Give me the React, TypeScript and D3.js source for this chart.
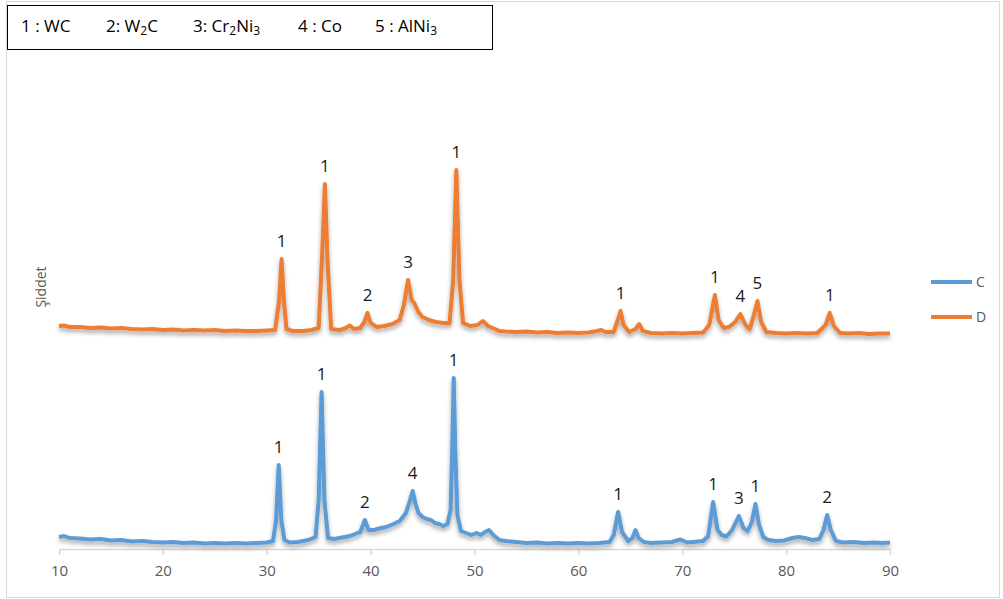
import React, { useEffect, useRef } from 'react';
import * as d3 from 'd3';

// 2θ (deg) / intensity (counts)
const seriesC: [number, number][] = [
  [10, 120], [10.5, 130], [11, 110], [12, 105], [13, 95], [14, 100], [15, 85], [16, 90], [17, 75], [18, 80],
  [19, 70], [20, 65], [21, 70], [22, 60], [23, 65], [24, 55], [25, 60], [26, 55], [27, 60], [28, 55],
  [29, 60], [30, 65], [30.6, 80], [30.9, 290], [31.15, 840], [31.4, 290], [31.7, 90], [32.2, 65], [33, 70],
  [34, 90], [34.7, 120], [35.0, 490], [35.28, 1570], [35.55, 490], [35.9, 110], [36.5, 100], [37, 110],
  [37.5, 120], [38, 130], [38.5, 150], [39, 170], [39.45, 290], [39.8, 190], [40.3, 190], [41, 210],
  [41.5, 220], [42.2, 250], [42.8, 280], [43.4, 360], [43.8, 490], [44.05, 580], [44.3, 460], [44.6, 360],
  [45, 320], [45.4, 300], [45.8, 290], [46.2, 260], [46.6, 250], [47, 230], [47.4, 250], [47.7, 390],
  [47.85, 990], [48.0, 1710], [48.15, 990], [48.35, 340], [48.7, 180], [49.2, 160], [49.7, 140], [50.2, 160],
  [50.6, 140], [51, 170], [51.4, 190], [51.8, 140], [52.4, 90], [53, 80], [54, 70], [55, 60], [56, 65],
  [57, 55], [58, 60], [59, 55], [60, 60], [61, 55], [62, 60], [63, 70], [63.4, 140], [63.83, 370],
  [64.2, 170], [64.8, 80], [65.2, 110], [65.5, 190], [65.8, 110], [66.3, 70], [67, 60], [68, 65], [69, 70],
  [69.8, 95], [70.5, 65], [71, 70], [72, 80], [72.5, 130], [72.97, 470], [73.4, 190], [73.8, 140],
  [74.26, 125], [74.8, 190], [75.45, 330], [75.9, 210], [76.3, 180], [76.7, 270], [77.05, 450], [77.4, 240],
  [77.8, 120], [78.3, 90], [79, 80], [79.8, 85], [80.6, 110], [81.2, 120], [81.8, 110], [82.5, 90],
  [83.2, 100], [83.6, 190], [83.95, 340], [84.3, 190], [84.8, 80], [85.5, 65], [86.5, 70], [87.5, 60],
  [88.5, 65], [89.2, 60], [90, 65],
];

const seriesD: [number, number][] = [
  [10, 2230], [10.5, 2235], [11, 2220], [12, 2220], [13, 2210], [14, 2215], [15, 2205], [16, 2210],
  [17, 2200], [18, 2195], [19, 2200], [20, 2190], [21, 2195], [22, 2185], [23, 2190], [24, 2185],
  [25, 2190], [26, 2180], [27, 2185], [28, 2180], [29, 2180], [30, 2185], [30.8, 2190], [31.2, 2490],
  [31.43, 2900], [31.65, 2490], [31.9, 2200], [32.5, 2180], [33.5, 2180], [34.3, 2190], [35.0, 2210],
  [35.35, 2990], [35.6, 3650], [35.85, 2890], [36.2, 2200], [37, 2190], [37.5, 2205], [38, 2235],
  [38.4, 2200], [39, 2210], [39.4, 2270], [39.7, 2360], [40, 2260], [40.6, 2220], [41.3, 2230],
  [42.1, 2250], [42.8, 2290], [43.2, 2440], [43.6, 2690], [43.95, 2490], [44.2, 2460], [44.6, 2370],
  [45, 2320], [45.6, 2290], [46.3, 2270], [47, 2260], [47.6, 2260], [47.95, 2690], [48.25, 3790],
  [48.55, 2690], [48.9, 2260], [49.6, 2230], [50.3, 2240], [50.8, 2280], [51.3, 2230], [52.4, 2180],
  [53, 2175], [54, 2170], [55, 2175], [56, 2165], [57, 2170], [58, 2160], [59, 2165], [60, 2160],
  [61, 2165], [61.8, 2180], [62.2, 2190], [62.6, 2170], [63.4, 2170], [63.8, 2290], [64.06, 2380],
  [64.35, 2240], [64.9, 2170], [65.5, 2200], [65.85, 2250], [66.2, 2180], [67, 2160], [68, 2155],
  [69, 2160], [70, 2155], [71, 2160], [72, 2165], [72.6, 2240], [73.14, 2540], [73.5, 2290], [74, 2210],
  [74.5, 2220], [75.1, 2270], [75.6, 2350], [76.1, 2240], [76.5, 2200], [76.9, 2340], [77.24, 2480],
  [77.6, 2270], [78.1, 2170], [79, 2160], [80, 2155], [81, 2160], [82, 2155], [83, 2160], [83.8, 2240],
  [84.2, 2360], [84.6, 2230], [85.2, 2160], [86, 2155], [87, 2160], [88, 2150], [89, 2155], [90, 2155],
];

// phase labels over peaks: [2θ, phase number]
const peaksC: [number, string][] = [
  [31.15, '1'], [35.28, '1'], [39.45, '2'], [44.05, '4'], [48.0, '1'],
  [63.83, '1'], [72.97, '1'], [75.45, '3'], [77.05, '1'], [83.95, '2'],
];
const peaksD: [number, string][] = [
  [31.43, '1'], [35.6, '1'], [39.7, '2'], [43.6, '3'], [48.25, '1'],
  [64.06, '1'], [73.14, '1'], [75.6, '4'], [77.24, '5'], [84.2, '1'],
];

const xTicks = [10, 20, 30, 40, 50, 60, 70, 80, 90];
const seriesNames = ['C', 'D'];
const colors = ['#5B9BD5', '#ED7D31'];

// phase key: prefix+base, then alternating sub / base parts
const phases: string[][] = [
  ['1 : ', 'WC'],
  ['2: ', 'W', '2', 'C'],
  ['3: ', 'Cr', '2', 'Ni', '3'],
  ['4 : ', 'Co'],
  ['5 : ', 'AlNi', '3'],
];

const W = 1003;
const H = 599;
const FONT = "'Open Sans', 'Noto Sans', sans-serif";

export default function App() {
  const ref = useRef<SVGSVGElement>(null);

  useEffect(() => {
    const svg = d3.select(ref.current);
    svg.selectAll('*').remove();

    const x = d3.scaleLinear().domain([10, 90]).range([59, 890]);
    const y = d3.scaleLinear().domain([0, 5000]).range([549, 49]);

    // outer chart border
    svg.append('rect')
      .attr('x', 6.5).attr('y', 1.5).attr('width', 993).attr('height', 596)
      .attr('fill', '#fff').attr('stroke', '#d9d9d9');

    const defs = svg.append('defs');
    defs.append('filter').attr('id', 'shadow')
      .attr('x', '-5%').attr('y', '-5%').attr('width', '110%').attr('height', '120%')
      .append('feDropShadow')
      .attr('dx', 0).attr('dy', 3).attr('stdDeviation', 2)
      .attr('flood-color', '#000').attr('flood-opacity', 0.35);

    // x axis
    const ax = svg.append('g').attr('transform', 'translate(0,549)')
      .call(d3.axisBottom(x).tickValues(xTicks).tickSize(6).tickSizeOuter(0).tickPadding(10));
    ax.select('.domain').attr('stroke', '#d9d9d9').attr('stroke-width', 1.5);
    ax.selectAll('.tick line').attr('stroke', '#d9d9d9').attr('stroke-width', 1.5);
    ax.selectAll('.tick text')
      .attr('fill', '#595959').attr('font-size', 15).attr('font-family', FONT);

    // y title
    svg.append('text')
      .attr('transform', 'translate(46,287) rotate(-90)')
      .attr('text-anchor', 'middle')
      .attr('fill', '#595959').attr('font-size', 14).attr('font-family', FONT)
      .text('Şiddet');

    const line = d3.line<[number, number]>().x(d => x(d[0])).y(d => y(d[1]));

    [seriesC, seriesD].forEach((s, i) => {
      svg.append('path')
        .datum(s)
        .attr('d', line)
        .attr('fill', 'none')
        .attr('stroke', colors[i])
        .attr('stroke-width', 4)
        .attr('stroke-linejoin', 'round')
        .attr('filter', 'url(#shadow)');
    });

    // peak labels
    const labelPeaks = (s: [number, number][], peaks: [number, string][]) => {
      peaks.forEach(([t, lbl]) => {
        const top = d3.max(s.filter(d => Math.abs(d[0] - t) < 0.05), d => d[1]) ?? 0;
        svg.append('text')
          .attr('x', x(t)).attr('y', y(top) - 12)
          .attr('text-anchor', 'middle')
          .attr('fill', '#1a1a1a').attr('font-size', 17).attr('font-family', FONT)
          .text(lbl);
      });
    };
    labelPeaks(seriesC, peaksC);
    labelPeaks(seriesD, peaksD);

    // series legend
    seriesNames.forEach((n, i) => {
      const ly = 282 + i * 35;
      svg.append('line')
        .attr('x1', 931).attr('x2', 972).attr('y1', ly).attr('y2', ly)
        .attr('stroke', colors[i]).attr('stroke-width', 4);
      svg.append('text')
        .attr('x', 976).attr('y', ly + 5)
        .attr('fill', '#595959').attr('font-size', 14).attr('font-family', FONT)
        .text(n);
    });

    // phase key box
    svg.append('rect')
      .attr('x', 7.5).attr('y', 5.5).attr('width', 485).attr('height', 44)
      .attr('fill', '#fff').attr('stroke', '#000');
    const keyX = [21, 106, 193, 298, 375];
    phases.forEach((p, i) => {
      const t = svg.append('text')
        .attr('x', keyX[i]).attr('y', 32)
        .attr('fill', '#000').attr('font-size', 17).attr('font-family', FONT);
      t.append('tspan').text(p[0] + p[1]);
      for (let k = 2; k < p.length; k++) {
        const sub = k % 2 === 0;
        t.append('tspan')
          .attr('font-size', sub ? 12 : 17)
          .attr('dy', sub ? 3 : -3)
          .text(p[k]);
      }
    });
  }, []);

  return (
    <svg ref={ref} width={W} height={H} style={{ position: 'absolute', left: 0, top: 0, background: '#fff' }} />
  );
}
